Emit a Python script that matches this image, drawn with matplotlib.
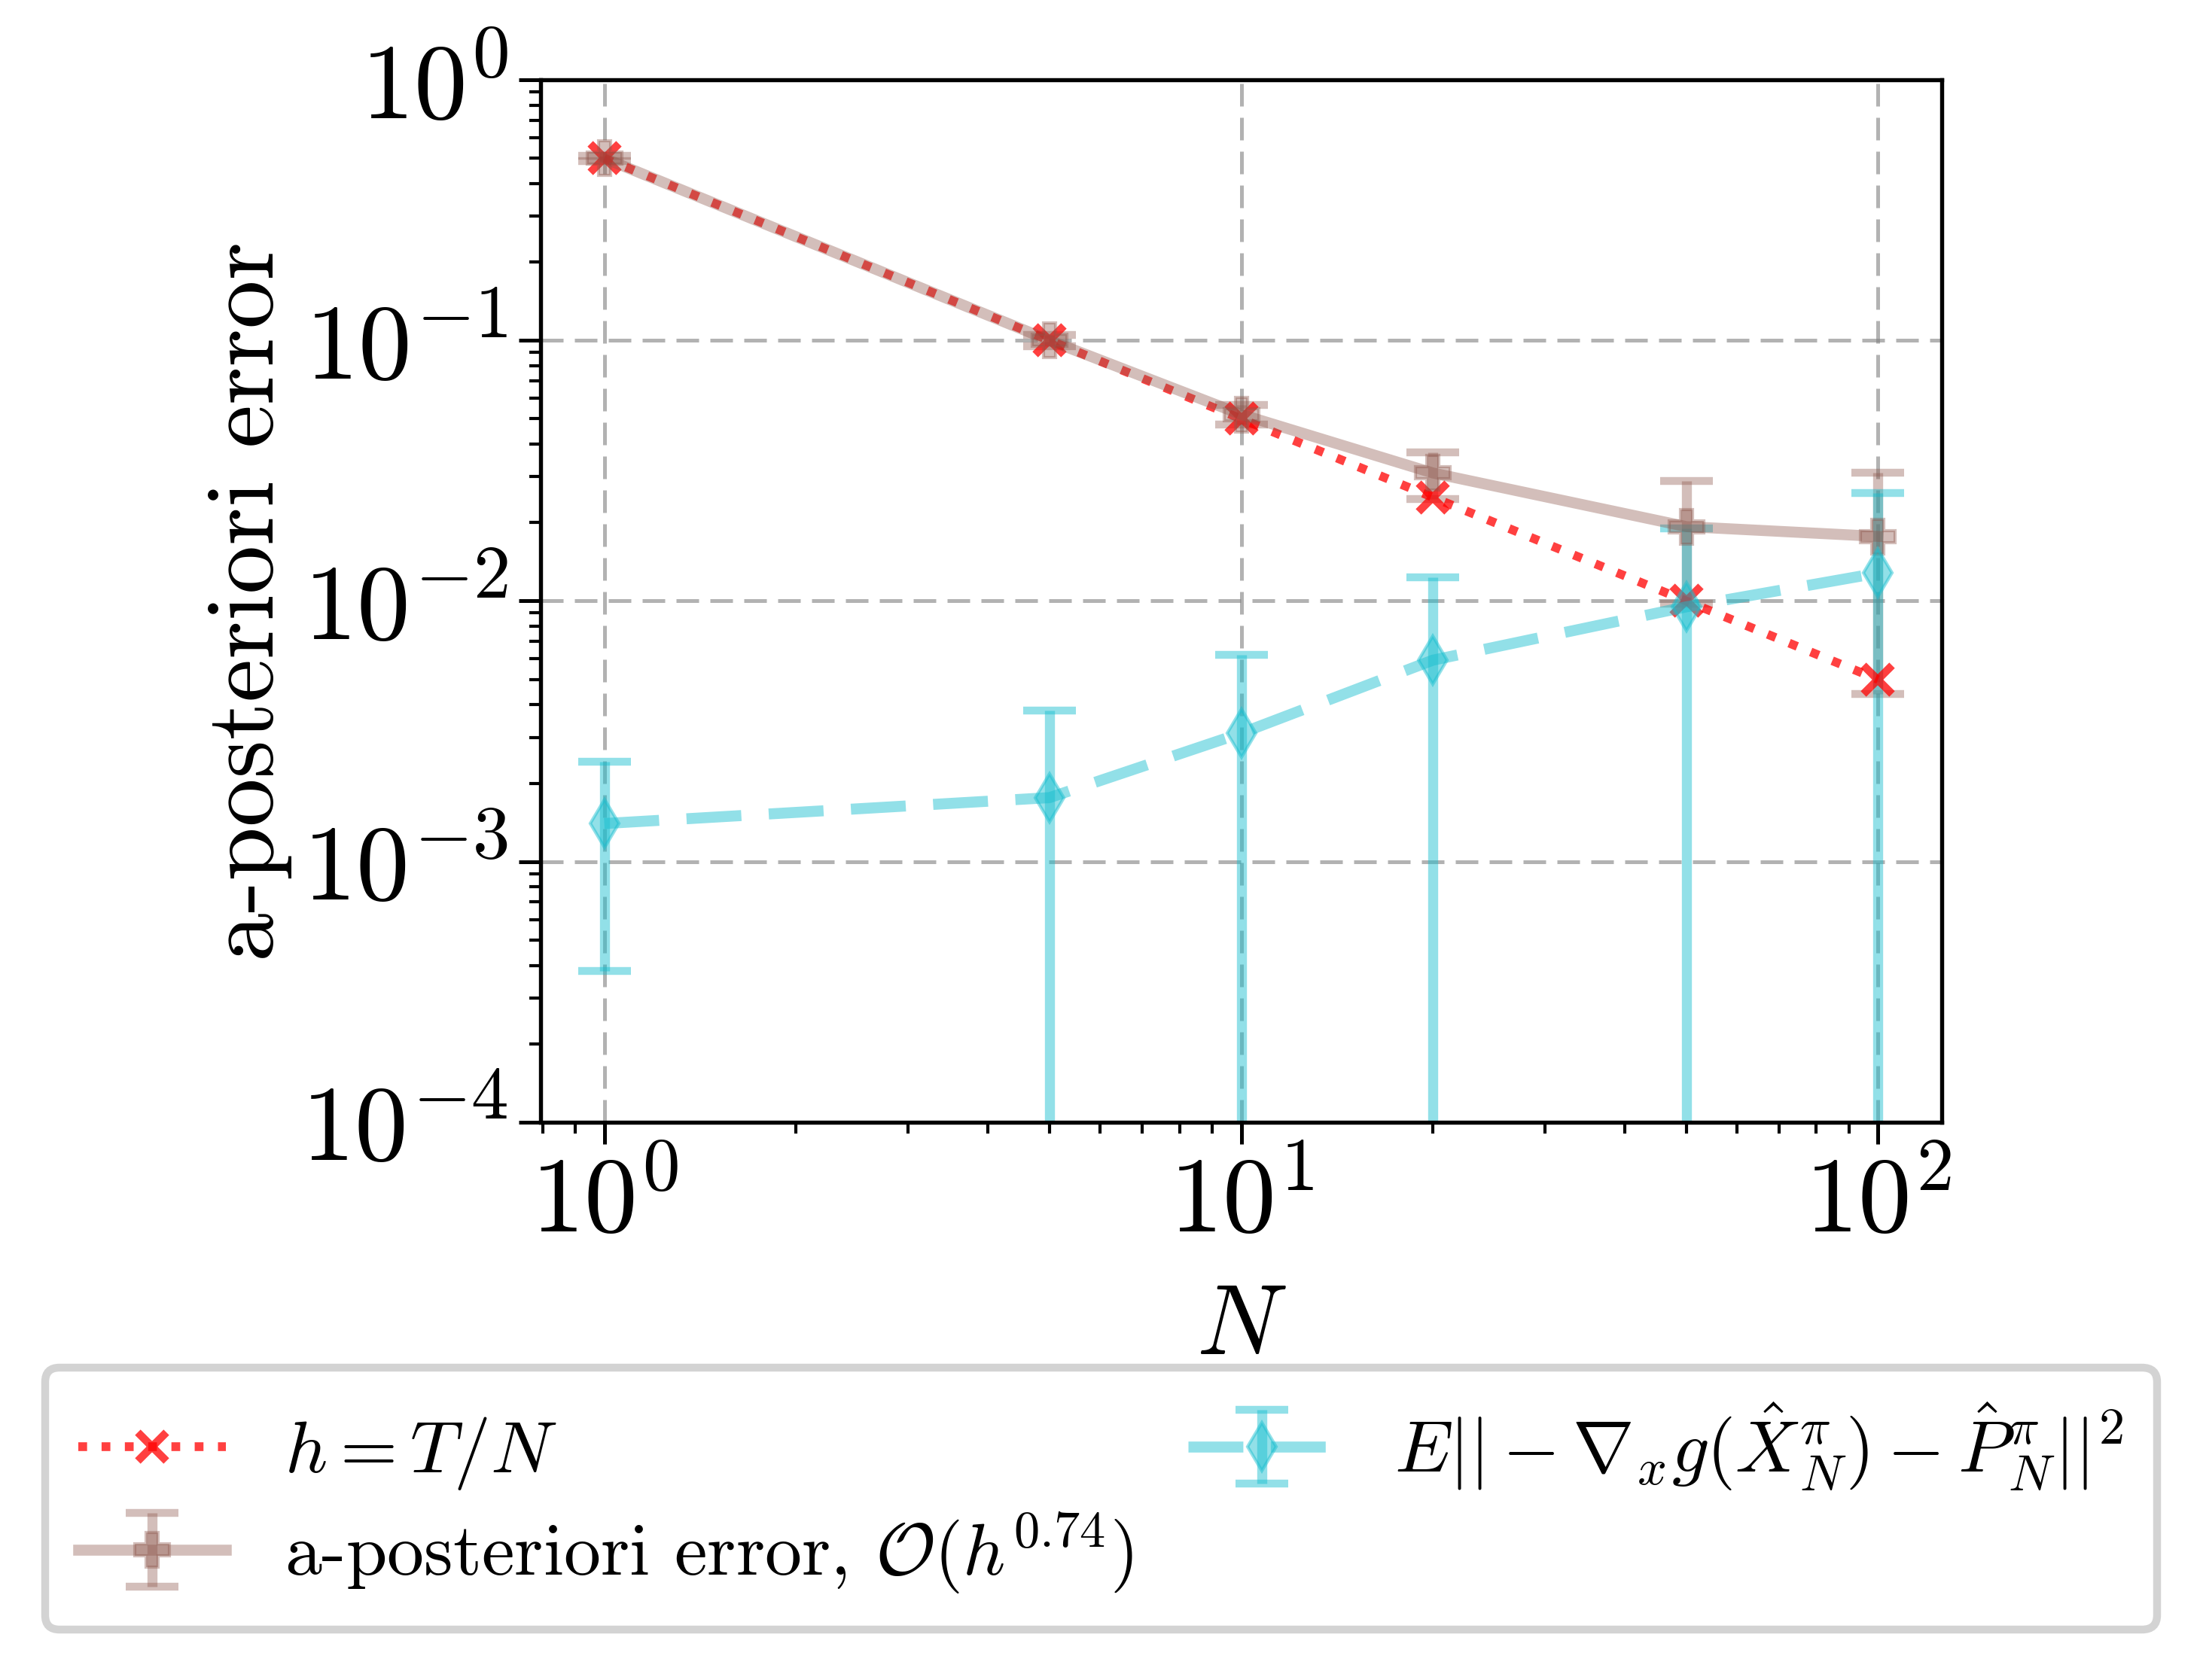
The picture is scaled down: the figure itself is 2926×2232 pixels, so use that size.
import matplotlib
matplotlib.use("Agg")
import matplotlib.pyplot as plt
import numpy as np

plt.rcParams['font.family'] = 'serif'
plt.rcParams['font.serif'] = ['cmr10']
plt.rcParams['mathtext.fontset'] = 'cm'
plt.rcParams['axes.formatter.use_mathtext'] = True
plt.rcParams['axes.unicode_minus'] = True

# Data
N = [1, 5, 10, 20, 50, 100]
h = [0.5, 0.1, 0.05, 0.025, 0.01, 0.005]
apost_mean = [0.5, 0.1, 0.052, 0.031, 0.0193, 0.0177]
apost_std = [0.012, 0.005, 0.0045, 0.0063, 0.0095, 0.0133]
grad_mean = [0.0014, 0.00176, 0.00311, 0.00593, 0.0095, 0.0128]
grad_std = [0.00102, 0.00205, 0.0031, 0.0064, 0.0095, 0.0132]

labels = [r'$h = T/N$',
          r'a-posteriori error, $\mathcal{O}(h^{0.74})$',
          r'$E||-\nabla_x g(\hat{X}^{\pi}_N) - \hat{P}^{\pi}_N||^2$']

fig = plt.figure(figsize=(2926/300, 2232/300), dpi=300)
ax = fig.add_axes([0.2454, 0.332, 0.8814-0.2454, 0.9525-0.332])

ax.errorbar(N, apost_mean, yerr=apost_std, color='tab:brown', alpha=0.38,
            lw=3.5, elinewidth=3.2, capsize=8.5, capthick=2.5,
            marker='P', markersize=11, linestyle='-', label=labels[1])
ax.errorbar(N, grad_mean, yerr=grad_std, color='tab:cyan', alpha=0.47,
            lw=3.5, elinewidth=3.2, capsize=8.5, capthick=2.5,
            marker='d', markersize=11, linestyle=(0, (5, 2.5)), label=labels[2])
ax.plot(N, h, color='red', alpha=0.75, linestyle=':', lw=2.8,
        marker='x', markersize=9, markeredgewidth=2.5, label=labels[0])

ax.set_xscale('log')
ax.set_yscale('log')
ax.set_ylim(1e-4, 1)
ax.grid(True, which='major', color='gray', alpha=0.6, lw=1.2, linestyle=(0, (6, 3)))

for s in ax.spines.values():
    s.set_linewidth(1.3)
ax.tick_params(which='major', length=7, width=1.2, labelsize=34)
ax.tick_params(which='minor', length=3.5, width=1.0)

ax.set_xlabel(r'$N$', fontsize=32, labelpad=10)
ax.set_ylabel('a-posteriori error', fontsize=31, labelpad=3)

handles, labs = ax.get_legend_handles_labels()
order = [labs.index(l) for l in labels]
leg = fig.legend([handles[i] for i in order], [labs[i] for i in order],
                 loc='upper left', bbox_to_anchor=(0.0204, 0.0, 0.979 - 0.0204, 0.186),
                 bbox_transform=fig.transFigure, ncol=2, borderaxespad=0,
                 mode='expand',
                 fontsize=23.5, frameon=True, fancybox=True, framealpha=1,
                 edgecolor='lightgray', columnspacing=0.55, borderpad=0.45,
                 labelspacing=0.25)
leg.get_frame().set_linewidth(2.5)

fig.savefig('out.png', dpi=300)
